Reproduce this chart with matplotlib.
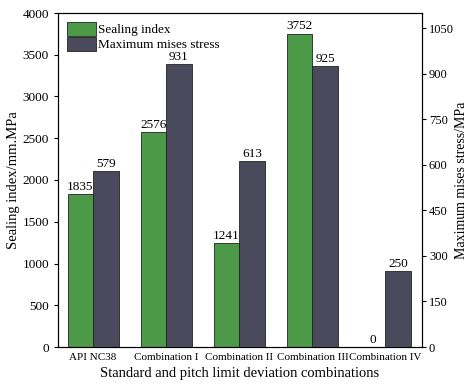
import matplotlib.pyplot as plt
import numpy as np

plt.rcParams['font.family'] = ['Liberation Serif', 'DejaVu Serif']

categories = ['API NC38', 'Combination I', 'Combination II', 'Combination III', 'Combination IV']
sealing_index = [1835, 2576, 1241, 3752, 0]
mises_stress = [579, 931, 613, 925, 250]

green = '#4c9a48'
dark = '#4a4a5c'

fig = plt.figure(figsize=(4.7, 3.88), dpi=100)
ax = fig.add_axes([58 / 470, 1 - 347 / 388, 364 / 470, 334 / 388])
ax2 = ax.twinx()

x = np.arange(len(categories))
w = 0.35

b1 = ax.bar(x - w / 2, sealing_index, w, color=green, edgecolor='#222222', linewidth=0.6, label='Sealing index')
b2 = ax2.bar(x + w / 2, mises_stress, w, color=dark, edgecolor='#222222', linewidth=0.6, label='Maximum mises stress')

for xi, v in zip(x, sealing_index):
    ax.text(xi - w / 2, v + 15, str(v), ha='center', va='bottom', fontsize=9.5)
for xi, v in zip(x, mises_stress):
    ax2.text(xi + w / 2, v + 4, str(v), ha='center', va='bottom', fontsize=9.5)

ax.set_xlim(-0.48, 4.5)
ax.set_ylim(0, 4000)
ax2.set_ylim(0, 1100)
ax.set_yticks(range(0, 4001, 500))
ax2.set_yticks(range(0, 1051, 150))
ax.set_xticks(x)
ax.set_xticklabels(categories, fontsize=8)
ax.tick_params(axis='x', length=0, pad=4)
ax.tick_params(axis='y', labelsize=9.5, direction='out', length=3)
ax2.tick_params(axis='y', labelsize=9, direction='out', length=3, pad=2)

ax.set_ylabel('Sealing index/mm.MPa', fontsize=10.5, labelpad=2)
ax2.set_ylabel('Maximum mises stress/MPa', fontsize=10, labelpad=1)
ax.set_xlabel('Standard and pitch limit deviation combinations', fontsize=10.5, labelpad=4)

for a in (ax, ax2):
    for s in a.spines.values():
        s.set_linewidth(0.8)

ax.legend([b1, b2], ['Sealing index', 'Maximum mises stress'], loc='upper left',
          frameon=False, fontsize=9.5, handlelength=2.2, handleheight=1.2,
          handletextpad=0.1, labelspacing=0.05, borderaxespad=0.3)

fig.savefig('out.png', dpi=100)
